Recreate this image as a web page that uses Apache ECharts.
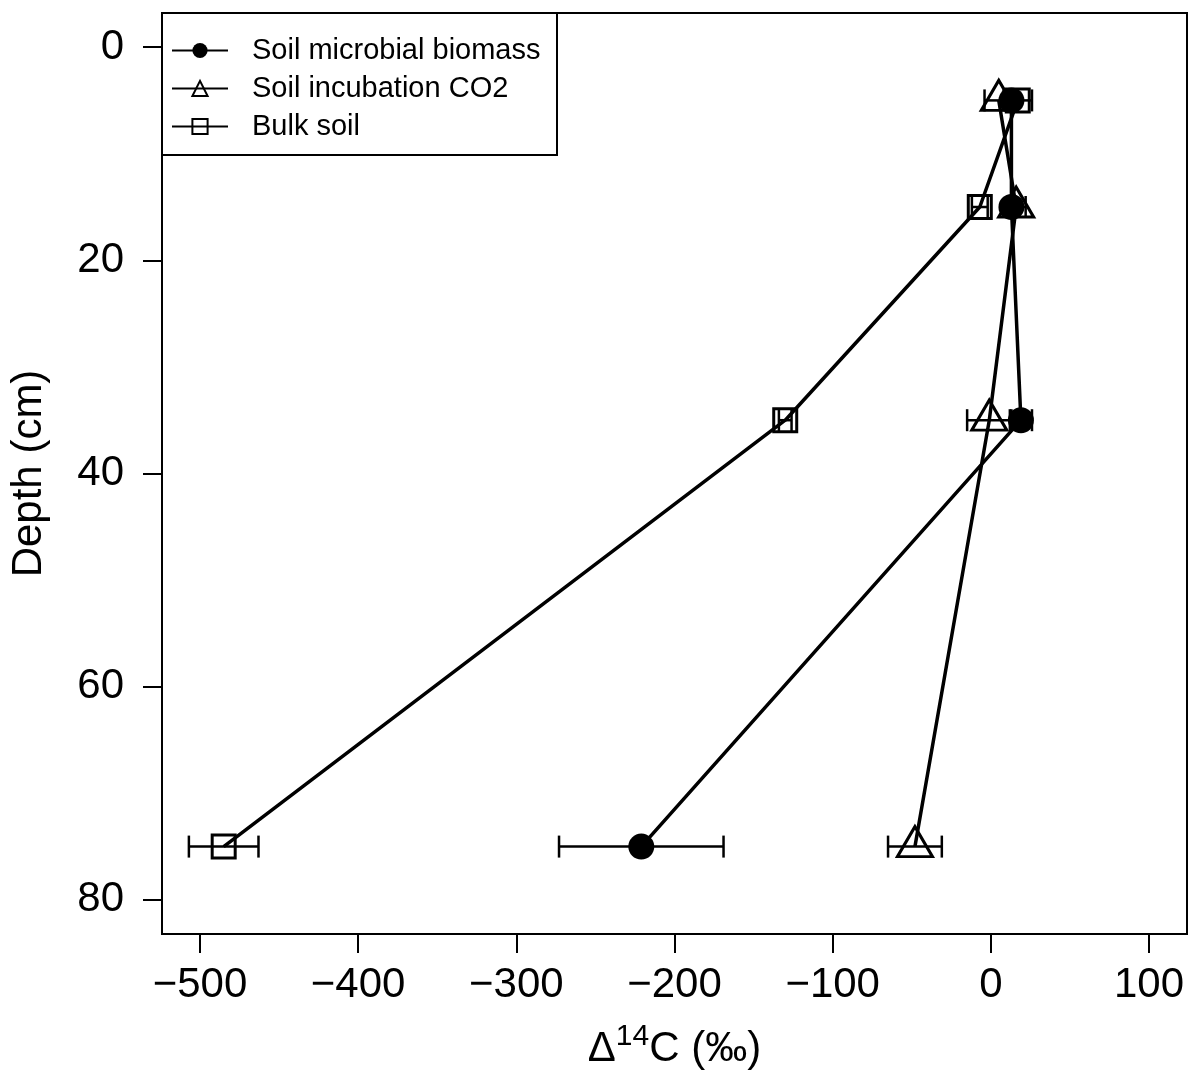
<!DOCTYPE html>
<html>
<head>
<meta charset="utf-8">
<script src="https://cdn.jsdelivr.net/npm/echarts@6/dist/echarts.min.js"></script>
<style>
  html, body { margin: 0; padding: 0; background: #fff; }
  #chart { width: 1190px; height: 1070px; }
</style>
</head>
<body>
<div id="chart"></div>
<script>
// depth of each sample (cm)
const depths = [5, 15, 35, 75];

// Δ14C (‰) for each series, and the half-width of its error bar
const microbial = [13, 13, 19, -221];
const microbialErr = [4, 3, 7, 52];
const incubation = [5, 16, -1, -48];
const incubationErr = [9, 6, 14, 17];
const bulk = [17, -7, -130, -485];
const bulkErr = [9, 5, 4, 22];

const xTicks = [-500, -400, -300, -200, -100, 0, 100];
const yTicks = [0, 20, 40, 60, 80];

const font = "'Liberation Sans', Arial, Helvetica, sans-serif";

function pts(xs) {
  return xs.map((v, i) => [v, depths[i]]);
}
function errPts(xs, es) {
  return xs.map((v, i) => [v, depths[i], es[i]]);
}

// horizontal error bar with end caps
function errorBar(params, api) {
  const x = api.value(0), y = api.value(1), e = api.value(2);
  const a = api.coord([x - e, y]);
  const b = api.coord([x + e, y]);
  const cap = 11;
  const st = { stroke: '#000', lineWidth: 2.5 };
  return {
    type: 'group',
    children: [
      { type: 'line', shape: { x1: a[0], y1: a[1], x2: b[0], y2: b[1] }, style: st },
      { type: 'line', shape: { x1: a[0], y1: a[1] - cap, x2: a[0], y2: a[1] + cap }, style: st },
      { type: 'line', shape: { x1: b[0], y1: b[1] - cap, x2: b[0], y2: b[1] + cap }, style: st }
    ]
  };
}

const chart = echarts.init(document.getElementById('chart'));

const option = {
  animation: false,
  backgroundColor: '#fff',
  textStyle: { fontFamily: font },
  grid: {
    left: 162, right: 3, top: 13, bottom: 136,
    outerBoundsMode: 'none', containLabel: false,
    show: true, borderColor: '#000', borderWidth: 2
  },
  legend: {
    orient: 'vertical',
    left: 166, top: 31,
    itemWidth: 56, itemHeight: 19, itemGap: 9,
    textStyle: { fontSize: 29, color: '#000', fontFamily: font, padding: [0, 0, 0, 19] },
    data: ['Soil microbial biomass', 'Soil incubation CO2', 'Bulk soil']
  },
  graphic: [{
    type: 'rect',
    shape: { x: 162, y: 13, width: 395, height: 142 },
    style: { fill: 'none', stroke: '#000', lineWidth: 2 },
    z: 0
  }],
  xAxis: {
    type: 'value', min: -524, max: 124,
    splitLine: { show: false },
    axisLine: { show: false, onZero: false },
    axisTick: { show: true, inside: false, length: 19, customValues: xTicks, lineStyle: { color: '#000', width: 2 } },
    axisLabel: {
      customValues: xTicks, fontSize: 42, color: '#000', margin: 30,
      formatter: v => String(v).replace('-', '\u2212')
    },
    name: '{a|\u0394}{s|14}{a|C (\u2030)}',
    nameLocation: 'middle', nameGap: 88,
    nameTextStyle: {
      rich: {
        a: { fontSize: 42, fontFamily: font, color: '#000', lineHeight: 48, verticalAlign: 'bottom' },
        s: { fontSize: 30, fontFamily: font, color: '#000', lineHeight: 30, verticalAlign: 'top' }
      }
    }
  },
  yAxis: {
    type: 'value', inverse: true, min: -3.2, max: 83.2,
    splitLine: { show: false },
    axisLine: { show: false, onZero: false },
    axisTick: { show: true, inside: false, length: 19, customValues: yTicks, lineStyle: { color: '#000', width: 2 } },
    axisLabel: { customValues: yTicks, fontSize: 42, color: '#000', margin: 38 },
    name: 'Depth (cm)',
    nameLocation: 'middle', nameGap: 112,
    nameTextStyle: { fontSize: 42, color: '#000', fontFamily: font }
  },
  series: [
    { type: 'custom', renderItem: errorBar, data: errPts(microbial, microbialErr), z: 2, silent: true },
    { type: 'custom', renderItem: errorBar, data: errPts(incubation, incubationErr), z: 2, silent: true },
    { type: 'custom', renderItem: errorBar, data: errPts(bulk, bulkErr), z: 2, silent: true },
    {
      name: 'Soil microbial biomass', type: 'line', data: pts(microbial), z: 3,
      symbol: 'circle', symbolSize: 26, showAllSymbol: true,
      lineStyle: { color: '#000', width: 3.5 },
      itemStyle: { color: '#000' }
    },
    {
      name: 'Soil incubation CO2', type: 'line', data: pts(incubation), z: 3,
      symbol: 'triangle', symbolSize: [35, 30], symbolOffset: [0, -5], showAllSymbol: true,
      lineStyle: { color: '#000', width: 3.5 },
      itemStyle: { color: 'rgba(0,0,0,0)', borderColor: '#000', borderWidth: 3 }
    },
    {
      name: 'Bulk soil', type: 'line', data: pts(bulk), z: 3,
      symbol: 'rect', symbolSize: 23, showAllSymbol: true,
      lineStyle: { color: '#000', width: 3.5 },
      itemStyle: { color: 'rgba(0,0,0,0)', borderColor: '#000', borderWidth: 3 }
    }
  ]
};

chart.setOption(option);
</script>
</body>
</html>
